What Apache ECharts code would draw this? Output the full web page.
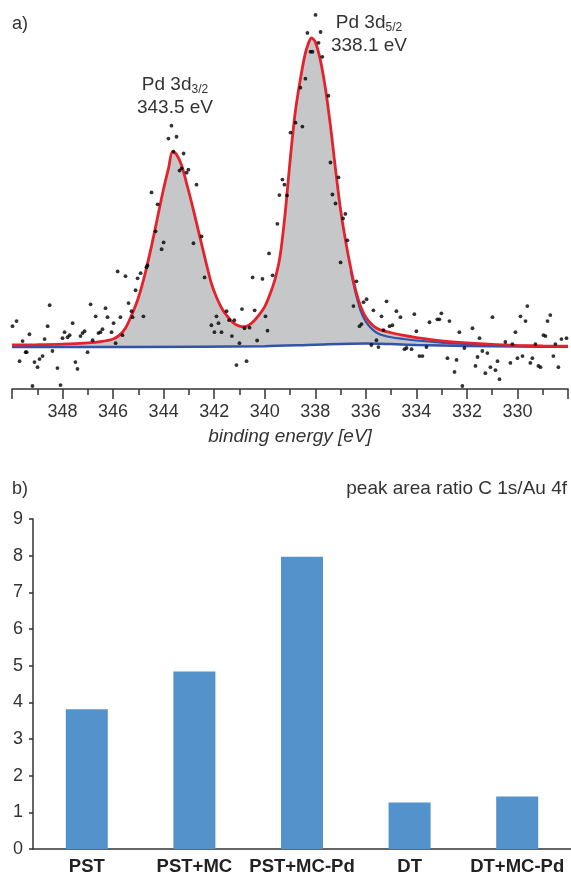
<!DOCTYPE html>
<html>
<head>
<meta charset="utf-8">
<script src="https://cdn.jsdelivr.net/npm/echarts@6/dist/echarts.min.js"></script>
<style>
  html, body { margin: 0; padding: 0; background: #fff; }
  #chart { width: 571px; height: 876px; }
</style>
</head>
<body>
<div id="chart"></div>
<script>
// a) XPS Pd 3d spectrum, binding energy (eV) vs intensity (arb. units)
var fitE = [350, 349, 348, 347, 346.5, 346, 345.75, 345.5, 345.25, 345, 344.75, 344.5, 344.25, 344, 343.8, 343.65,
  343.5, 343.3, 343.1, 342.9, 342.7, 342.5, 342.3, 342.1, 341.9, 341.7, 341.5, 341.25, 341, 340.8, 340.6, 340.4,
  340.2, 340, 339.8, 339.6, 339.4, 339.2, 339, 338.8, 338.6, 338.4, 338.25, 338.15, 338, 337.8, 337.6, 337.4,
  337.2, 337, 336.8, 336.6, 336.4, 336.2, 336, 335.75, 335.5, 335, 334.5, 334, 333, 332, 331, 330, 329, 328];
var fitI = [0.07, 0.08, 0.10, 0.14, 0.18, 0.27, 0.40, 0.65, 1.10, 1.65, 2.40, 3.30, 4.30, 5.30, 6.00, 6.53,
  6.45, 6.10, 5.50, 4.85, 4.15, 3.45, 2.75, 2.10, 1.65, 1.30, 1.05, 0.82, 0.70, 0.68, 0.75, 0.90,
  1.10, 1.35, 1.75, 2.25, 3.00, 4.40, 6.20, 7.80, 8.90, 9.80, 10.20, 10.33, 10.20, 9.60, 8.65, 7.40,
  5.95, 4.60, 3.55, 2.65, 1.90, 1.35, 1.00, 0.75, 0.60, 0.48, 0.39, 0.32, 0.21, 0.14, 0.09, 0.06, 0.04, 0.03];

var baseE = [350, 345, 340, 338, 336, 335, 334, 332, 330, 328];
var baseI = [0, 0, 0.03, 0.08, 0.12, 0.10, 0.07, 0.04, 0.02, 0.01];

// 3d5/2 component tail (only visible right of the peak)
var compE = [336.6, 336.4, 336.2, 336, 335.75, 335.5, 335, 334.5, 334, 333, 332, 331, 330, 328];
var compI = [2.55, 1.80, 1.20, 0.85, 0.60, 0.45, 0.33, 0.27, 0.22, 0.15, 0.10, 0.06, 0.04, 0.02];

var ptE = [349.98, 349.82, 349.58, 349.70, 349.46, 349.42, 349.31, 349.19, 349.11, 348.99, 348.91, 348.79, 348.71, 348.59,
  348.51, 348.40, 348.20, 348.08, 348.00, 347.92, 347.80, 347.72, 347.60, 347.49, 347.41, 347.29, 347.21, 347.13,
  347.01, 346.89, 346.81, 346.69, 346.58, 346.50, 346.42, 346.30, 346.22, 346.06, 345.98, 345.90, 345.82, 345.71,
  345.63, 345.51, 345.39, 345.27, 345.23, 345.11, 345.03, 344.91, 344.80, 344.68, 344.64, 344.48, 344.32, 344.24,
  344.08, 344.00, 343.81, 343.69, 343.61, 343.49, 343.37, 343.29, 343.21, 343.09, 343.02, 342.70, 342.82, 342.50,
  342.38, 342.11, 341.99, 341.91, 341.83, 341.71, 341.51, 341.41, 341.30, 341.20, 341.12, 341.00, 340.90, 340.80,
  340.72, 340.60, 340.48, 340.40, 340.30, 340.09, 339.97, 339.89, 339.83, 339.69, 339.50, 339.42, 339.30, 339.22,
  339.12, 338.98, 338.78, 338.59, 338.51, 338.39, 338.31, 338.19, 338.11, 337.99, 337.87, 337.79, 337.72, 337.48,
  337.40, 337.32, 337.20, 337.08, 337.00, 336.90, 336.81, 336.73, 336.49, 336.37, 336.25, 336.17, 336.09, 335.97,
  335.78, 335.70, 335.58, 335.50, 335.38, 335.30, 335.18, 335.06, 334.95, 334.79, 334.63, 334.47, 334.39, 334.19,
  334.08, 334.00, 333.88, 333.76, 333.60, 333.48, 333.17, 333.09, 333.01, 332.77, 332.69, 332.49, 332.41, 332.30,
  332.18, 332.10, 331.78, 331.66, 331.58, 331.50, 331.39, 331.27, 331.19, 331.07, 330.99, 330.87, 330.79, 330.71,
  330.48, 330.28, 330.20, 330.08, 330.00, 329.88, 329.80, 329.68, 329.61, 329.49, 329.41, 329.29, 329.17, 329.09,
  328.97, 328.89, 328.81, 328.70, 328.58, 328.50, 328.38, 328.26, 328.06];
var ptI = [0.70, 0.87, 0.20, -0.47, -0.17, -0.17, 0.43, -1.30, -0.50, -0.67, -0.40, -0.30, 0.27, 0.70,
  1.40, -0.13, -0.70, -1.27, 0.30, 0.50, 0.33, 0.40, 0.80, -0.50, -0.73, 0.37, 0.47, 0.53,
  -0.17, 1.43, 0.23, 1.03, 0.47, 0.50, 0.60, 1.30, 1.00, 0.50, 0.80, 0.13, 2.53, 1.00,
  0.40, 2.37, 1.47, 1.20, 1.00, 1.90, 2.30, 2.47, 1.03, 2.67, 2.73, 5.17, 3.87, 4.77,
  3.27, 3.50, 6.97, 7.40, 6.53, 7.03, 5.90, 5.97, 6.47, 5.83, 5.93, 5.43, 3.47, 3.70,
  2.33, 0.73, 0.50, 1.03, 0.80, 0.50, 1.20, 0.90, 0.37, 0.90, -0.60, 0.13, 1.27, 0.63,
  -0.47, 0.65, 2.33, 1.23, 0.22, 2.28, 1.03, 0.55, 3.13, 2.40, 4.12, 5.08, 5.60, 5.43,
  5.07, 7.17, 7.50, 8.67, 7.37, 8.97, 10.50, 9.87, 9.87, 11.10, 10.17, 10.53, 9.70, 8.40,
  6.17, 5.10, 4.80, 5.67, 2.83, 4.30, 4.45, 3.57, 1.37, 2.20, 0.70, 0.77, 1.50, 1.60,
  0.07, 1.23, 0.23, 0.00, 1.03, 0.57, 1.53, 0.70, 0.73, 1.20, 1.00, -0.07, -0.03, -0.07,
  1.10, 0.53, -0.30, -0.30, 0.00, 0.83, 0.93, 0.93, 1.13, -0.37, 0.87, -0.83, -0.43, 0.50,
  -1.30, -0.03, 0.63, -0.63, -0.33, 0.30, -0.13, -0.87, -0.20, -0.67, 1.00, -0.77, -0.47, -1.07,
  0.17, -0.53, 0.10, 0.50, -0.37, 1.03, -0.30, 0.87, 1.37, -0.53, -0.37, 0.10, -0.63, -0.67,
  0.40, 0.37, 0.87, 1.07, -0.30, 0.10, -0.67, 0.27, 0.30];

// b) peak area ratio C 1s/Au 4f
var samples = ['PST', 'PST+MC', 'PST+MC-Pd', 'DT', 'DT+MC-Pd'];
var ratios = [3.81, 4.84, 7.97, 1.27, 1.43];

function zip(a, b) {
  return a.map(function (v, i) { return [v, b[i]]; });
}

var FONT = '"Liberation Sans", Arial, sans-serif';
var TXT = '#333';
var BLUE = '#3352ab';

var chart = echarts.init(document.getElementById('chart'));

var option = {
  backgroundColor: '#fff',
  animation: false,
  textStyle: { fontFamily: FONT },
  grid: [
    { left: 12, top: 0, width: 557, height: 389 },
    { left: 33, top: 519, width: 538, height: 333 }
  ],
  xAxis: [
    {
      gridIndex: 0,
      type: 'value',
      inverse: true,
      min: 328,
      max: 350,
      interval: 2,
      z: 5,
      axisLine: { onZero: false, lineStyle: { color: '#333', width: 1.5 } },
      axisTick: { length: 10, lineStyle: { color: '#333', width: 1.5 } },
      minorTick: { show: true, splitNumber: 2, length: 6, lineStyle: { color: '#333', width: 1.5 } },
      splitLine: { show: false },
      axisLabel: {
        fontSize: 18, color: TXT, margin: 14, fontFamily: FONT,
        formatter: function (v) { return (v === 350 || v === 328) ? '' : String(v); }
      },
      name: 'binding energy [eV]',
      nameLocation: 'middle',
      nameGap: 38,
      nameTextStyle: { fontSize: 19, fontStyle: 'italic', color: TXT, fontFamily: FONT }
    },
    {
      gridIndex: 1,
      type: 'category',
      data: samples,
      axisLine: { lineStyle: { color: '#333', width: 1.5 } },
      axisTick: { show: false },
      axisLabel: { fontSize: 18.5, fontWeight: 'bold', color: '#222', margin: 8, fontFamily: FONT, interval: 0 }
    }
  ],
  yAxis: [
    {
      gridIndex: 0,
      type: 'value',
      show: false,
      min: -1.4,
      max: 11.6
    },
    {
      gridIndex: 1,
      type: 'value',
      min: 0,
      max: 9,
      interval: 1,
      axisLine: { show: true, lineStyle: { color: '#333', width: 1.5 } },
      axisTick: { show: true, length: 4, lineStyle: { color: '#333', width: 1.5 } },
      splitLine: { show: false },
      axisLabel: { fontSize: 18, color: TXT, margin: 10, fontFamily: FONT }
    }
  ],
  series: [
    {
      // grey envelope fill
      type: 'line',
      xAxisIndex: 0, yAxisIndex: 0,
      data: zip(fitE, fitI),
      smooth: 0.3,
      symbol: 'none',
      lineStyle: { width: 0 },
      areaStyle: { color: '#c5c7c9', opacity: 1, origin: 'start' },
      z: 1
    },
    {
      // background line, white below it
      type: 'line',
      xAxisIndex: 0, yAxisIndex: 0,
      data: zip(baseE, baseI),
      smooth: 0.3,
      symbol: 'none',
      lineStyle: { color: BLUE, width: 2.5 },
      areaStyle: { color: '#fff', opacity: 1, origin: 'start' },
      z: 2
    },
    {
      type: 'line',
      xAxisIndex: 0, yAxisIndex: 0,
      data: zip(compE, compI),
      smooth: 0.3,
      symbol: 'none',
      lineStyle: { color: BLUE, width: 2.2 },
      z: 3
    },
    {
      type: 'line',
      xAxisIndex: 0, yAxisIndex: 0,
      data: zip(fitE, fitI),
      smooth: 0.3,
      symbol: 'none',
      lineStyle: { color: '#e4222c', width: 2.8 },
      z: 4
    },
    {
      type: 'scatter',
      xAxisIndex: 0, yAxisIndex: 0,
      data: zip(ptE, ptI),
      symbol: 'circle',
      symbolSize: 3.8,
      itemStyle: { color: '#000' },
      z: 6
    },
    {
      type: 'bar',
      xAxisIndex: 1, yAxisIndex: 1,
      data: ratios,
      barWidth: 42,
      itemStyle: { color: '#5392ca' }
    }
  ],
  graphic: [
    { type: 'text', left: 12, top: 15, style: { text: 'a)', fontSize: 18, fill: TXT, fontFamily: FONT } },
    { type: 'text', left: 12, top: 480, style: { text: 'b)', fontSize: 18, fill: TXT, fontFamily: FONT } },
    {
      type: 'text', right: 4, top: 479,
      style: { text: 'peak area ratio C 1s/Au 4f', fontSize: 19, fill: TXT, fontFamily: FONT }
    },
    {
      type: 'text', x: 175, y: 73,
      style: {
        text: '{a|Pd 3d}{s|3/2}\n{a|343.5 eV}',
        align: 'center', verticalAlign: 'top', fill: TXT, fontFamily: FONT,
        rich: {
          a: { fontSize: 19, lineHeight: 23, fill: TXT, fontFamily: FONT },
          s: { fontSize: 12, lineHeight: 12, verticalAlign: 'bottom', fill: TXT, fontFamily: FONT }
        }
      }
    },
    {
      type: 'text', x: 369, y: 11,
      style: {
        text: '{a|Pd 3d}{s|5/2}\n{a|338.1 eV}',
        align: 'center', verticalAlign: 'top', fill: TXT, fontFamily: FONT,
        rich: {
          a: { fontSize: 19, lineHeight: 23, fill: TXT, fontFamily: FONT },
          s: { fontSize: 12, lineHeight: 12, verticalAlign: 'bottom', fill: TXT, fontFamily: FONT }
        }
      }
    }
  ]
};

chart.setOption(option);
</script>
</body>
</html>
